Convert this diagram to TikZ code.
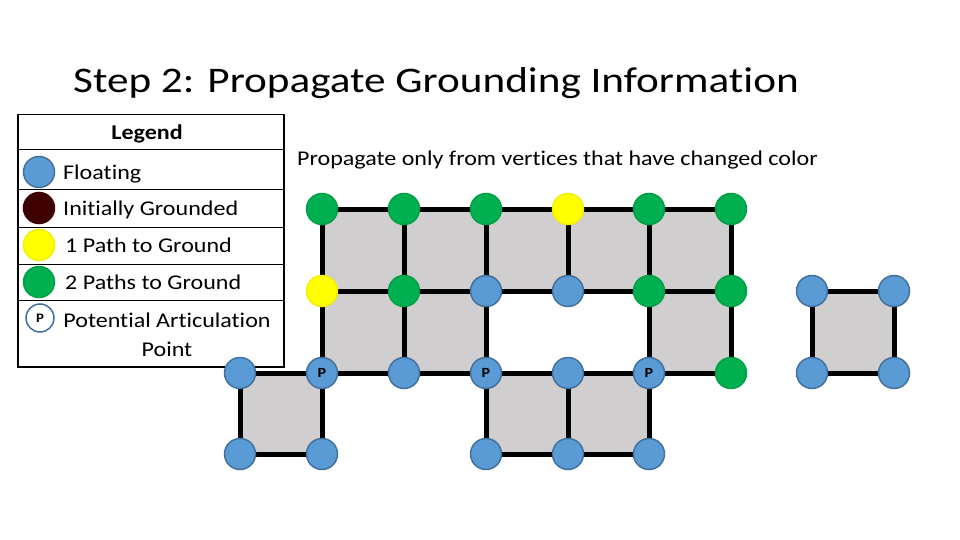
\documentclass[tikz,border=0pt]{standalone}
\usepackage{fontspec}
\setmainfont[Ligatures=NoCommon, FakeStretch=1.145]{Carlito}
\newfontfamily\titlefont[Ligatures=NoCommon, FakeStretch=1.2]{Carlito}
\usetikzlibrary{backgrounds}
\definecolor{fblue}{HTML}{5B9BD5}
\definecolor{bblue}{HTML}{41719C}
\definecolor{fgreen}{HTML}{00B050}
\definecolor{bgreen}{HTML}{00A046}
\definecolor{fyellow}{HTML}{FFFF00}
\definecolor{byellow}{HTML}{F0F000}
\definecolor{fred}{HTML}{3F0000}
\definecolor{sqgray}{HTML}{D0CECE}
\tikzset{
  vtx/.style={circle, minimum size=31pt, inner sep=0pt, line width=1.5pt},
  fl/.style={vtx, fill=fblue, draw=bblue},
  gr/.style={vtx, fill=fgreen, draw=bgreen},
  ye/.style={vtx, fill=fyellow, draw=byellow},
  ig/.style={vtx, fill=fred, draw=fred},
  art/.style={font=\fontsize{14}{14}\selectfont\bfseries},
  edge/.style={line width=5pt, black},
  sq/.style={fill=sqgray},
  lgtext/.style={anchor=base west, inner sep=0pt, font=\fontsize{21}{21}\selectfont},
  divider/.style={line width=1pt, black}
}
\begin{document}
\begin{tikzpicture}[x=1pt,y=-1pt]
\useasboundingbox (0,0) rectangle (960,540);
% title
\node[anchor=base west, inner sep=0pt, font=\fontsize{36}{36}\selectfont\titlefont] (title) at (73,93) {Step 2: Propagate Grounding Information};
\node[anchor=base west, inner sep=0pt, font=\fontsize{21}{21}\selectfont] (sub) at (297,165) {Propagate only from vertices that have changed color};
% legend
\node[draw, line width=1.5pt, minimum width=266pt, minimum height=252pt, inner sep=0pt, anchor=north west] (legend) at (17,114) {};
\draw[divider] (legend.west |- 0,150) -- (legend.east |- 0,150);
\draw[divider] (legend.west |- 0,189) -- (legend.east |- 0,189);
\draw[divider] (legend.west |- 0,227) -- (legend.east |- 0,227);
\draw[divider] (legend.west |- 0,264) -- (legend.east |- 0,264);
\draw[divider] (legend.west |- 0,300) -- (legend.east |- 0,300);
\node[anchor=base, inner sep=0pt, font=\fontsize{21}{21}\selectfont\bfseries] (lgtitle) at (147,140) {Legend};
\node[fl] (lfl) at (39,172) {};
\node[ig] (lig) at (39,208) {};
\node[ye] (lye) at (39,245) {};
\node[gr] (lgr) at (39,282) {};
\node[circle, minimum size=28pt, inner sep=0pt, fill=white, draw=bblue, line width=1.5pt, font=\fontsize{13}{13}\selectfont\bfseries] (lp) at (40,318) {P};
\node[lgtext] (tfl) at (63,179) {Floating};
\node[lgtext] (tig) at (63,215) {Initially Grounded};
\node[lgtext] (tye) at (65,252) {1 Path to Ground};
\node[lgtext] (tgr) at (65,289) {2 Paths to Ground};
\node[anchor=base, inner sep=0pt, align=center, font=\fontsize{21}{29}\selectfont] (tp) at (167,356) {Potential Articulation\\Point};
% vertices
% row 0
\node[gr] (a1) at (322,209) {};
\node[gr] (a2) at (404,209) {};
\node[gr] (a3) at (486,209) {};
\node[ye] (a4) at (568,209) {};
\node[gr] (a5) at (649,209) {};
\node[gr] (a6) at (731,209) {};
% row 1
\node[ye] (b1) at (322,291) {};
\node[gr] (b2) at (404,291) {};
\node[fl] (b3) at (486,291) {};
\node[fl] (b4) at (568,291) {};
\node[gr] (b5) at (649,291) {};
\node[gr] (b6) at (731,291) {};
\node[fl] (b7) at (812,291) {};
\node[fl] (b8) at (894,291) {};
% row 2
\node[fl] (c0) at (240,373) {};
\node[fl, art] (c1) at (322,373) {P};
\node[fl] (c2) at (404,373) {};
\node[fl, art] (c3) at (486,373) {P};
\node[fl] (c4) at (568,373) {};
\node[fl, art] (c5) at (649,373) {P};
\node[gr] (c6) at (731,373) {};
\node[fl] (c7) at (812,373) {};
\node[fl] (c8) at (894,373) {};
% row 3
\node[fl] (d0) at (240,454) {};
\node[fl] (d1) at (322,454) {};
\node[fl] (d3) at (486,454) {};
\node[fl] (d4) at (568,454) {};
\node[fl] (d5) at (649,454) {};
\begin{scope}[on background layer]
  \fill[sq] (a1.center) rectangle (b6.center);
  \fill[sq] (b1.center) rectangle (c3.center);
  \fill[sq] (b5.center) rectangle (c6.center);
  \fill[sq] (b7.center) rectangle (c8.center);
  \fill[sq] (c0.center) rectangle (d1.center);
  \fill[sq] (c3.center) rectangle (d5.center);
  % horizontals
  \draw[edge] (a1.center) -- (a2.center) -- (a3.center) -- (a4.center) -- (a5.center) -- (a6.center);
  \draw[edge] (b1.center) -- (b2.center) -- (b3.center) -- (b4.center) -- (b5.center) -- (b6.center);
  \draw[edge] (b7.center) -- (b8.center);
  \draw[edge] (c0.center) -- (c1.center) -- (c2.center) -- (c3.center) -- (c4.center) -- (c5.center) -- (c6.center);
  \draw[edge] (c7.center) -- (c8.center);
  \draw[edge] (d0.center) -- (d1.center);
  \draw[edge] (d3.center) -- (d4.center) -- (d5.center);
  % verticals
  \draw[edge] (a1.center) -- (b1.center) -- (c1.center) -- (d1.center);
  \draw[edge] (a2.center) -- (b2.center) -- (c2.center);
  \draw[edge] (a3.center) -- (b3.center) -- (c3.center) -- (d3.center);
  \draw[edge] (a4.center) -- (b4.center);
  \draw[edge] (c4.center) -- (d4.center);
  \draw[edge] (a5.center) -- (b5.center) -- (c5.center) -- (d5.center);
  \draw[edge] (a6.center) -- (b6.center) -- (c6.center);
  \draw[edge] (b7.center) -- (c7.center);
  \draw[edge] (b8.center) -- (c8.center);
  \draw[edge] (c0.center) -- (d0.center);
\end{scope}
\end{tikzpicture}
\end{document}
